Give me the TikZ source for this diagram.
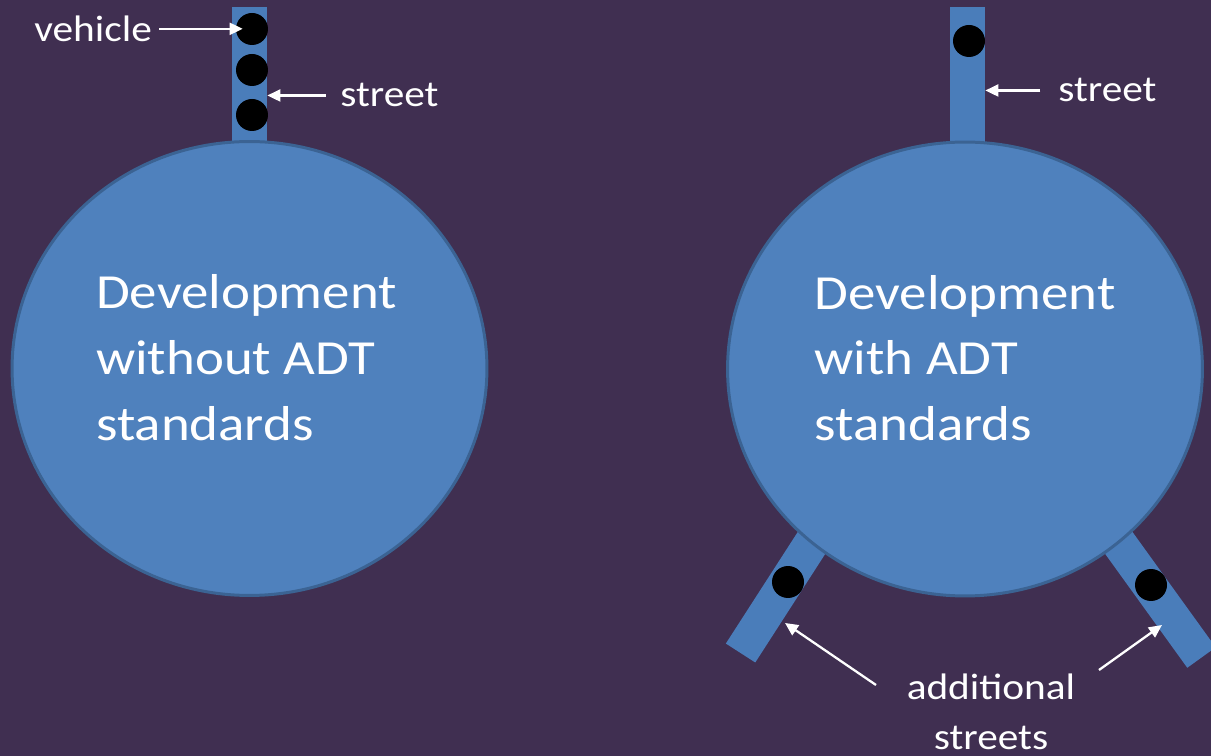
\documentclass[tikz,border=0pt]{standalone}
\usepackage{fontspec}
\setmainfont{Carlito}[FakeStretch=1.12]
\usetikzlibrary{shapes.geometric,arrows.meta,calc}
\definecolor{bg}{HTML}{402F51}
\definecolor{devfill}{HTML}{4F81BD}
\definecolor{devline}{HTML}{3B6393}
\definecolor{streetc}{HTML}{4A7DBA}
\begin{document}
\begin{tikzpicture}[x=0.02cm,y=-0.02cm,
  dev/.style={ellipse, draw=devline, line width=1.7pt, fill=devfill,
    minimum width=9.5cm, minimum height=9.08cm, inner sep=0pt},
  devtext/.style={text=white, align=left, inner sep=0pt,
    font=\fontsize{27.9pt}{37.4pt}\selectfont},
  road/.style={rectangle, fill=streetc, draw=none, minimum width=0.7cm, inner sep=0pt},
  car/.style={circle, fill=black, minimum size=0.64cm, inner sep=0pt},
  lbl/.style={text=white, font=\fontsize{21pt}{28.3pt}\selectfont, inner sep=0pt},
  arr/.style={draw=white, line width=1.3pt, -{Triangle[length=7.4pt,width=6.8pt]}}]
\fill[bg] (0,0) rectangle (1211,756);
\useasboundingbox (0,0) rectangle (1211,756);
\clip (0,0) rectangle (1211,756);
% streets
\node[road, minimum height=3.0cm] (r1) at (249.5,82) {};
\node[road, minimum height=3.0cm] (r2) at (967.5,82) {};
\node[road, minimum height=3.19cm, rotate=-32.8] (r3) at (783.75,586) {};
\node[road, minimum height=3.64cm, rotate=35.8] (r4) at (1148.25,583.75) {};
% developments
\node[dev] (left) at (249.5,368.5) {};
\node[dev] (right) at (965,369) {};
\node[devtext] (lefttxt) at ($(left)+(-3,-11)$) {Development\\without ADT\\standards};
\node[devtext] (righttxt) at ($(right)+(0,-11)$) {Development\\with ADT\\standards};
% vehicles
\node[car] (c1) at (252,29) {};
\node[car] (c2) at (252,70) {};
\node[car] (c3) at (252,115) {};
\node[car] (c4) at (969,41) {};
\node[car] (c5) at (788,582) {};
\node[car] (c6) at (1151,585) {};
% labels
\node[lbl, anchor=base west] (veh) at (34,41.5) {vehicle};
\node[lbl, anchor=base west] (st1) at (340,107) {street};
\node[lbl, anchor=base west] (st2) at (1058,102) {street};
\node[lbl, align=center] (add) at (991,712) {additional\\streets};
% arrows
\draw[arr, shorten <=4pt, shorten >=-4pt] (veh.east) -- (veh.east -| c1.west);
\draw[arr, shorten <=8pt] (st1.west) -- (st1.west -| r1.east);
\draw[arr, shorten <=10pt] (st2.west) -- (st2.west -| r2.east);
\coordinate (t3) at (785,623);
\coordinate (s3) at (876,685);
\coordinate (t4) at (1162,625);
\coordinate (s4) at (1099,670);
\draw[arr] (s3) -- (t3);
\draw[arr] (s4) -- (t4);
\end{tikzpicture}
\end{document}
